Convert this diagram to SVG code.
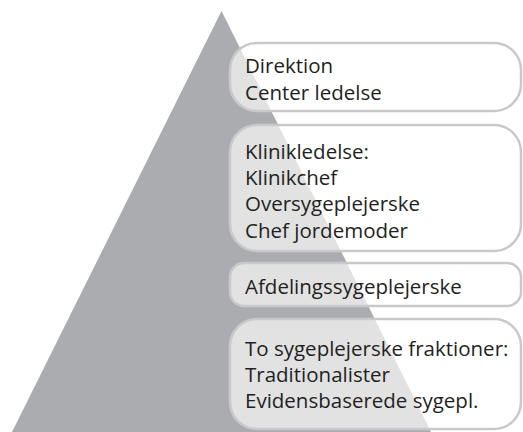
<svg xmlns="http://www.w3.org/2000/svg" width="523" height="432" viewBox="0 0 523 432">
<style>
.box{fill:#ffffff;fill-opacity:0.65;stroke:#c9c9cb;stroke-width:2.5}
text{font-family:"Open Sans","Liberation Sans",sans-serif;font-size:20.5px;fill:#231f20}
</style>
<rect width="523" height="432" fill="#ffffff"/>
<g id="pyramid"><polygon points="221.5,11 12,432 431,432" fill="#abacb0"/></g>
<g id="connectors"></g>
<g id="level1">
<rect class="box" x="230" y="43" width="291" height="68" rx="27"/>
<text x="245" y="73">Direktion</text>
<text x="245" y="100">Center ledelse</text>
</g>
<g id="level2">
<rect class="box" x="230" y="125" width="291" height="126" rx="27"/>
<text x="245" y="159">Klinikledelse:</text>
<text x="245" y="185">Klinikchef</text>
<text x="245" y="211">Oversygeplejerske</text>
<text x="245" y="238">Chef jordemoder</text>
</g>
<g id="level3">
<rect class="box" x="230" y="263" width="291" height="43" rx="14"/>
<text x="245" y="294">Afdelingssygeplejerske</text>
</g>
<g id="level4">
<rect class="box" x="230" y="319" width="291" height="110" rx="27"/>
<text x="245" y="356">To sygeplejerske fraktioner:</text>
<text x="245" y="382">Traditionalister</text>
<text x="245" y="408">Evidensbaserede sygepl.</text>
</g>
</svg>
